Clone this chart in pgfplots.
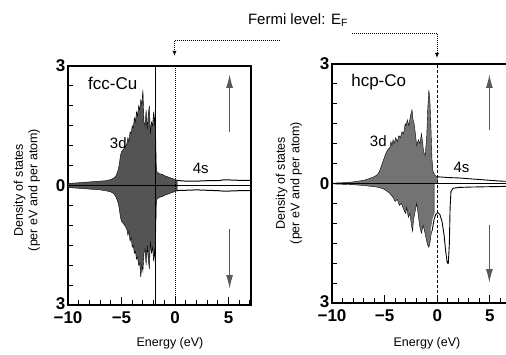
\documentclass[border=0pt]{standalone}
\usepackage{pgfplots}
\pgfplotsset{compat=1.18}
\usepackage{fontspec}
\setmainfont{Liberation Sans}
\usetikzlibrary{arrows.meta}
\definecolor{cufill}{gray}{0.33}
\definecolor{cofill}{gray}{0.45}
\definecolor{arrgray}{gray}{0.35}
\pgfplotsset{dosaxis/.style={
  scale only axis, height=239pt,
  xmin=-10, xmax=7.1, ymin=-3, ymax=3,
  xtick={-10,-5,0,5}, xticklabels={−10,−5,0,5},
  minor xtick={-9,-8,...,7},
  ytick={-3,0,3}, yticklabels={\raisebox{3pt}{3},0,3},
  minor ytick={-2.5,-2,...,2.5},
  xtick pos=bottom, ytick pos=left, tick align=inside,
  major tick length=8pt, minor tick length=5pt,
  every tick/.style={black, line width=1pt},
  axis line style={line width=1.3pt},
  tick label style={font=\bfseries\fontsize{17}{17}\selectfont, inner sep=0.5pt},
  xticklabel style={yshift=-6pt},
  yticklabel style={xshift=-2pt},
  clip=true,
}}
\begin{document}
\begin{tikzpicture}[x=1pt,y=1pt]
\useasboundingbox (0,0) rectangle (506,354);
\clip (0,0) rectangle (506,354);
% ---------------- fcc-Cu ----------------
\begin{axis}[dosaxis, at={(68pt,49pt)}, anchor=south west, width=183pt]
\addplot[fill=cufill, draw=black, line width=0.4pt] coordinates {
(-10,0.05) (-9.5,0.06) (-9,0.07) (-8.5,0.08) (-8,0.09) (-7.5,0.1) (-7,0.11) (-6.5,0.12) (-6,0.15) (-5.7,0.19) (-5.5,0.25) (-5.3,0.4) (-5.2,0.55) (-5.1,0.75) (-5.0,0.85) (-4.85,0.9) (-4.7,0.95) (-4.6,1.0) (-4.5,1.05) (-4.4,1.2) (-4.3,1.1) (-4.2,1.35) (-4.1,1.3) (-4.0,1.5) (-3.9,1.45) (-3.8,1.7) (-3.7,1.6) (-3.6,1.85) (-3.5,1.75) (-3.4,2.0) (-3.3,1.9) (-3.2,2.15) (-3.1,2.05) (-3.0,2.4) (-2.9,1.6) (-2.8,1.5) (-2.7,1.9) (-2.6,1.4) (-2.5,1.8) (-2.4,2.0) (-2.3,1.3) (-2.2,1.6) (-2.1,1.5) (-2.0,1.85) (-1.9,1.5) (-1.85,1.9) (-1.8,1.2) (-1.75,0.5) (-1.7,0.35) (-1.5,0.3) (-1.2,0.28) (-1.0,0.25) (-0.7,0.22) (-0.5,0.2) (-0.3,0.18) (0,0.15) (0.2,0.13)
} \closedcycle;
\addplot[fill=cufill, draw=black, line width=0.4pt] coordinates {
(-10,-0.05) (-9.5,-0.06) (-9,-0.07) (-8.5,-0.08) (-8,-0.09) (-7.5,-0.1) (-7,-0.11) (-6.5,-0.13) (-6,-0.16) (-5.7,-0.21) (-5.5,-0.3) (-5.3,-0.45) (-5.2,-0.6) (-5.1,-0.8) (-5.0,-0.9) (-4.85,-0.95) (-4.7,-1.0) (-4.6,-1.05) (-4.5,-1.1) (-4.4,-1.25) (-4.3,-1.15) (-4.2,-1.4) (-4.1,-1.3) (-4.0,-1.55) (-3.9,-1.5) (-3.8,-1.7) (-3.7,-1.65) (-3.6,-1.85) (-3.5,-1.8) (-3.4,-2.0) (-3.3,-1.95) (-3.2,-2.3) (-3.1,-2.0) (-3.0,-2.15) (-2.9,-1.7) (-2.8,-1.6) (-2.7,-2.0) (-2.6,-1.5) (-2.5,-1.85) (-2.4,-2.1) (-2.3,-1.4) (-2.2,-1.7) (-2.1,-1.55) (-2.0,-1.9) (-1.9,-1.6) (-1.85,-1.95) (-1.8,-1.2) (-1.75,-0.5) (-1.7,-0.35) (-1.5,-0.3) (-1.2,-0.28) (-1.0,-0.25) (-0.7,-0.22) (-0.5,-0.2) (-0.3,-0.18) (0,-0.15) (0.2,-0.13)
} \closedcycle;
\addplot[black, line width=1pt] coordinates {(-1.78,-3) (-1.78,3)};
\addplot[black, line width=0.8pt] coordinates {(-10,0) (7.1,0)};
\addplot[black, line width=1pt] coordinates {(0.2,0.13) (0.5,0.12) (1,0.11) (2,0.11) (3,0.12) (4,0.12) (4.5,0.14) (5,0.14) (6,0.13) (7.1,0.13)};
\addplot[black, line width=1pt] coordinates {(0.2,-0.13) (0.5,-0.12) (1,-0.12) (2,-0.11) (3,-0.12) (4,-0.13) (4.5,-0.14) (5,-0.14) (6,-0.13) (7.1,-0.13)};
\addplot[black, densely dotted, line width=1pt] coordinates {(0,-3) (0,3)};
\draw[arrgray, line width=1.5pt, -{Latex[length=14pt,width=7pt]}] (axis cs:5.1,1.35) -- (axis cs:5.1,2.8);
\draw[arrgray, line width=1.5pt, -{Latex[length=14pt,width=7pt]}] (axis cs:5.1,-1.1) -- (axis cs:5.1,-2.6);
\node[anchor=west, font=\fontsize{17}{17}\selectfont] at (axis cs:-8.45,2.55) {fcc-Cu};
\node[font=\fontsize{15}{15}\selectfont] at (axis cs:-5.3,1.07) {3d};
\node[font=\fontsize{15}{15}\selectfont] at (axis cs:2.4,0.42) {4s};
\end{axis}
% ---------------- hcp-Co ----------------
\begin{axis}[dosaxis, at={(332pt,51pt)}, anchor=south west, width=180pt]
\addplot[fill=cofill, draw=black, line width=0.4pt] coordinates {
(-10,0.01) (-9,0.02) (-8,0.04) (-7.5,0.06) (-7,0.08) (-6.5,0.12) (-6,0.17) (-5.7,0.22) (-5.5,0.3) (-5.3,0.45) (-5.1,0.6) (-4.9,0.75) (-4.7,0.85) (-4.5,0.9) (-4.4,1.05) (-4.3,0.95) (-4.2,1.1) (-4.1,1.0) (-3.95,1.15) (-3.8,1.05) (-3.65,1.2) (-3.5,1.15) (-3.35,1.3) (-3.2,1.25) (-3.05,1.5) (-2.95,1.45) (-2.85,1.6) (-2.7,1.45) (-2.55,1.7) (-2.4,1.85) (-2.3,1.6) (-2.2,1.5) (-2.1,1.3) (-1.95,0.95) (-1.8,1.1) (-1.65,1.0) (-1.5,1.25) (-1.4,1.05) (-1.3,0.8) (-1.15,0.7) (-1.0,1.2) (-0.9,1.9) (-0.8,2.35) (-0.7,2.1) (-0.6,1.4) (-0.5,0.6) (-0.4,0.3) (-0.2,0.2) (0,0.17)
} \closedcycle;
\addplot[fill=cofill, draw=black, line width=0.4pt] coordinates {
(-10,-0.01) (-9,-0.02) (-8,-0.03) (-7,-0.05) (-6,-0.08) (-5.5,-0.1) (-5,-0.15) (-4.5,-0.25) (-4.2,-0.35) (-4,-0.45) (-3.8,-0.4) (-3.6,-0.55) (-3.4,-0.5) (-3.2,-0.65) (-3.0,-0.75) (-2.9,-0.6) (-2.75,-0.85) (-2.6,-0.75) (-2.45,-1.05) (-2.35,-1.2) (-2.25,-0.9) (-2.1,-0.7) (-1.95,-0.5) (-1.8,-0.8) (-1.65,-1.1) (-1.5,-1.25) (-1.35,-1.05) (-1.2,-1.2) (-1.05,-1.4) (-0.9,-1.55) (-0.8,-1.6) (-0.7,-1.5) (-0.6,-1.3) (-0.5,-1.15) (-0.4,-1.0) (-0.3,-0.9) (-0.3,0)
} \closedcycle;
\addplot[black, line width=0.8pt] coordinates {(-10,0) (7.1,0)};
\addplot[white, line width=3pt] coordinates {(-0.5,-1.2) (-0.3,-0.9) (-0.15,-0.78) (0.05,-0.73) (0.25,-0.78) (0.45,-0.95) (0.65,-1.3) (0.8,-1.7) (0.95,-2.0) (1.05,-2.0) (1.15,-1.5) (1.22,-0.6)};
\addplot[black, line width=0.9pt] coordinates {(-0.5,-1.2) (-0.3,-0.9) (-0.15,-0.78) (0.05,-0.73) (0.25,-0.78) (0.45,-0.95) (0.65,-1.3) (0.8,-1.7) (0.95,-2.0) (1.05,-2.0) (1.15,-1.5) (1.22,-0.6) (1.3,-0.2) (1.5,-0.12) (2,-0.1) (3,-0.09) (5,-0.08) (7.1,-0.07)};
\addplot[black, line width=0.9pt] coordinates {(0,0.17) (0.5,0.16) (1,0.15) (2,0.14) (3,0.12) (4,0.1) (5,0.08) (6,0.06) (7.1,0.05)};
\addplot[black, densely dashed, line width=1pt] coordinates {(0,-3) (0,3)};
\draw[arrgray, line width=1.5pt, -{Latex[length=14pt,width=7pt]}] (axis cs:4.95,1.35) -- (axis cs:4.95,2.75);
\draw[arrgray, line width=1.5pt, -{Latex[length=14pt,width=7pt]}] (axis cs:4.95,-1.05) -- (axis cs:4.95,-2.5);
\node[anchor=west, font=\fontsize{17}{17}\selectfont] at (axis cs:-8.5,2.55) {hcp-Co};
\node[font=\fontsize{15}{15}\selectfont] at (axis cs:-5.6,1.07) {3d};
\node[font=\fontsize{15}{15}\selectfont] at (axis cs:2.3,0.4) {4s};
\end{axis}
% ---------------- annotations ----------------
\node[font=\fontsize{15}{15}\selectfont] at (298,334) {Fermi level: E\textsubscript{F}};
\draw[densely dotted, line width=1pt] (280,313) -- (174.5,313);
\draw[densely dotted, line width=1pt, -{Latex[length=5pt,width=4pt]}] (174.5,313) -- (174.5,298);
\draw[densely dotted, line width=1pt] (352,320) -- (437,320);
\draw[densely dotted, line width=1pt, -{Latex[length=5pt,width=4pt]}] (437,320) -- (437,296);
\node[rotate=90, align=center, font=\fontsize{12.5}{14.5}\selectfont] at (27,164) {Density of states\\(per eV and per atom)};
\node[rotate=90, align=center, font=\fontsize{12.5}{14.5}\selectfont] at (289,171) {Density of states\\(per eV and per atom)};
\node[font=\fontsize{12.5}{14}\selectfont] at (170,11) {Energy (eV)};
\node[font=\fontsize{12.5}{14}\selectfont] at (427,11) {Energy (eV)};
\end{tikzpicture}
\end{document}
